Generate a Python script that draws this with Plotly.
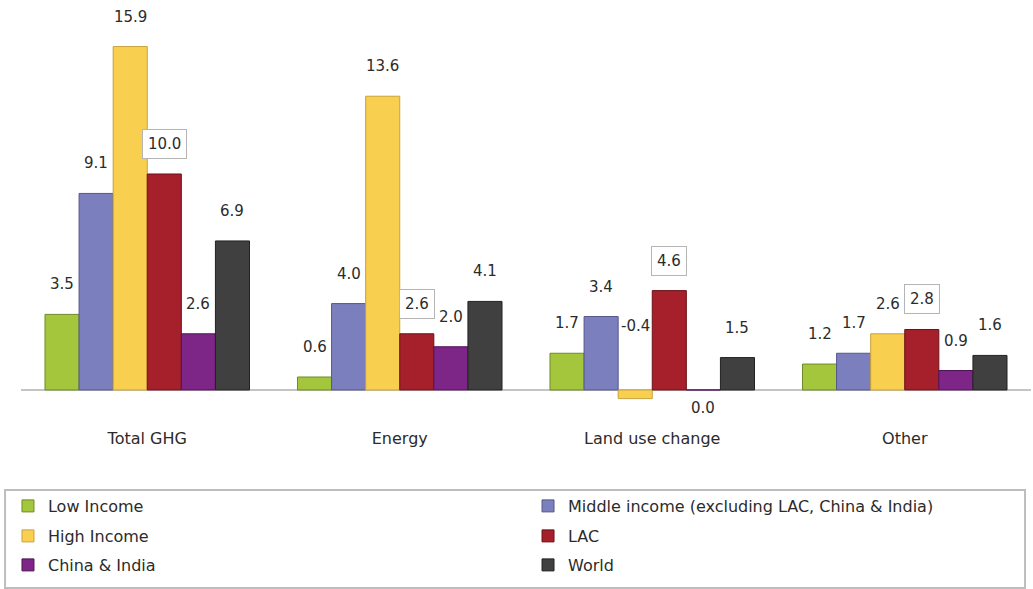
import plotly.graph_objects as go

# Emissions per capita by sector and region
categories = ["Total GHG", "Energy", "Land use change", "Other"]
series_names = [
    "Low Income",
    "Middle income (excluding LAC, China & India)",
    "High Income",
    "LAC",
    "China & India",
    "World",
]
low_income = [3.5, 0.6, 1.7, 1.2]
middle_income = [9.1, 4.0, 3.4, 1.7]
high_income = [15.9, 13.6, -0.4, 2.6]
lac = [10.0, 2.6, 4.6, 2.8]
china_india = [2.6, 2.0, 0.0, 0.9]
world = [6.9, 4.1, 1.5, 1.6]

values = [low_income, middle_income, high_income, lac, china_india, world]

fills = ["#a4c63c", "#7c7fbd", "#f9cf4f", "#a5202b", "#7e2687", "#404040"]
edges = ["#6f8a27", "#55578a", "#c7a23e", "#6d1119", "#4f1458", "#222222"]

BARGAP = 0.19
FONT = "DejaVu Sans, Liberation Sans, sans-serif"
TEXT = "#2b2b2b"

fig = go.Figure()
for name, vals, fc, ec in zip(series_names, values, fills, edges):
    fig.add_trace(go.Bar(
        x=categories, y=vals, name=name,
        marker=dict(color=fc, line=dict(color=ec, width=1)),
        showlegend=True,
    ))

# value labels sit a fixed distance above each bar; a few are nudged
label_nudge = {(2, 2): 64, (2, 4): -18}
n = len(series_names)
slot = (1 - BARGAP) / n
annotations = []
for j, vals in enumerate(values):
    for i, v in enumerate(vals):
        shift = label_nudge.get((i, j), 30)
        boxed = series_names[j] == "LAC"
        annotations.append(dict(
            x=i + (j - (n - 1) / 2) * slot, xref="x",
            y=max(v, 0), yref="y", yshift=shift,
            text=f"{v:.1f}", showarrow=False,
            font=dict(family=FONT, size=15, color=TEXT),
            bordercolor="#b5b5b5" if boxed else None,
            borderwidth=1 if boxed else 0,
            borderpad=5, bgcolor="white" if boxed else None,
        ))

# one legend per entry: two columns, three rows, inside a framed box
col_x = [-0.0129, 0.502]
row_y = [-0.235, -0.31, -0.3825]
legend_layout = {}
for k, tr in enumerate(fig.data):
    key = "legend" if k == 0 else f"legend{k + 1}"
    tr.legend = key
    legend_layout[key] = dict(
        orientation="h", x=col_x[k % 2], y=row_y[k // 2],
        xanchor="left", yanchor="middle",
        font=dict(family=FONT, size=16, color=TEXT),
        bgcolor="rgba(0,0,0,0)", borderwidth=0, itemclick=False,
    )

fig.update_layout(
    width=1033, height=589,
    margin=dict(l=21, r=2, t=12, b=177),
    paper_bgcolor="white", plot_bgcolor="white",
    barmode="group", bargap=BARGAP, bargroupgap=0,
    font=dict(family=FONT, size=15, color=TEXT),
    xaxis=dict(
        showgrid=False, showline=False, ticks="",
        tickfont=dict(family=FONT, size=16, color=TEXT),
        ticklabelstandoff=15,
    ),
    yaxis=dict(
        range=[-1.02, 17.5], showgrid=False, showticklabels=False,
        zeroline=True, zerolinecolor="#c4c4c4", zerolinewidth=2,
    ),
    annotations=annotations,
    shapes=[dict(
        type="rect", xref="paper", yref="paper",
        x0=-0.0158, x1=0.9941, y0=-0.195, y1=-0.44,
        line=dict(color="#bdbdbd", width=2), fillcolor="rgba(0,0,0,0)",
    )],
    **legend_layout,
)

fig.write_html("out.html")
